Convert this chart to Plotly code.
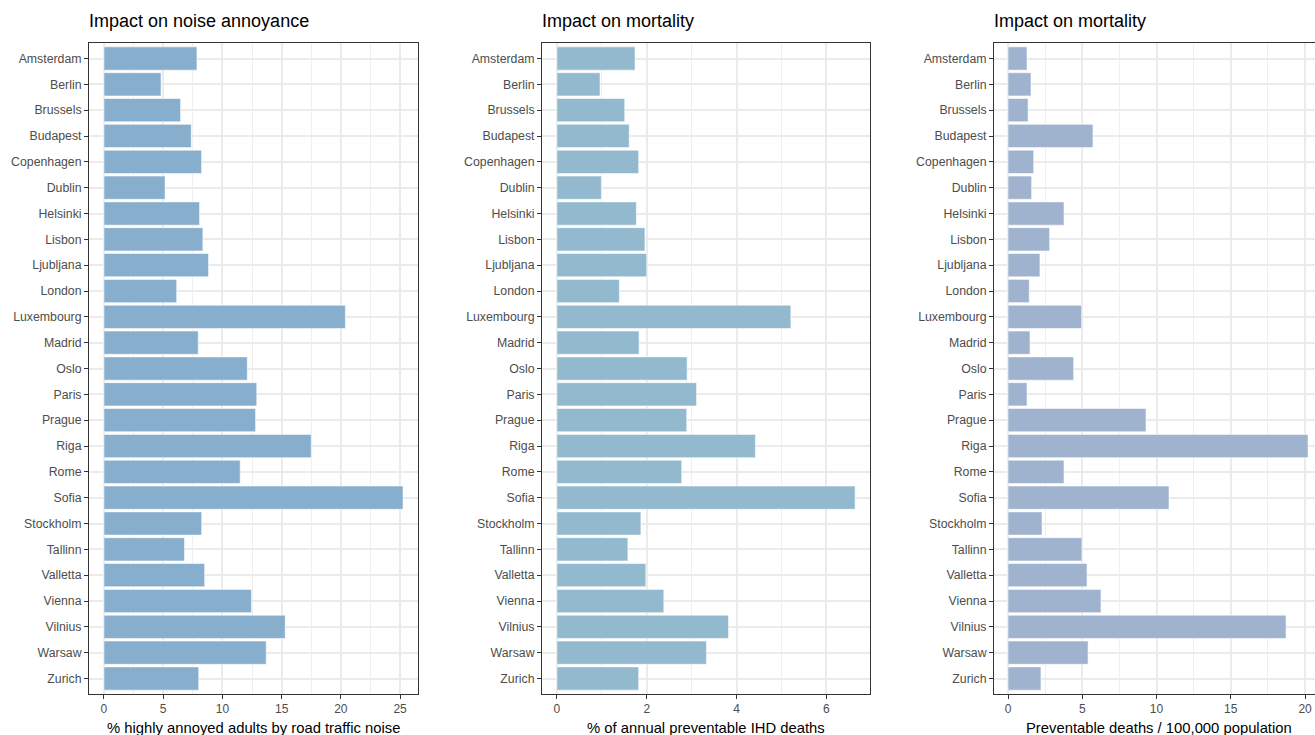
import plotly.graph_objects as go

cities = ["Amsterdam", "Berlin", "Brussels", "Budapest", "Copenhagen", "Dublin",
          "Helsinki", "Lisbon", "Ljubljana", "London", "Luxembourg", "Madrid",
          "Oslo", "Paris", "Prague", "Riga", "Rome", "Sofia", "Stockholm",
          "Tallinn", "Valletta", "Vienna", "Vilnius", "Warsaw", "Zurich"]
annoyance = [7.85, 4.82, 6.47, 7.37, 8.24, 5.16, 8.07, 8.35, 8.83, 6.14, 20.38, 7.96,
             12.1, 12.9, 12.8, 17.5, 11.5, 25.25, 8.25, 6.8, 8.5, 12.45, 15.3, 13.7, 8.0]
ihd_pct = [1.74, 0.96, 1.51, 1.61, 1.82, 0.99, 1.77, 1.96, 2.0, 1.39, 5.21, 1.83,
           2.90, 3.11, 2.89, 4.42, 2.78, 6.64, 1.87, 1.58, 1.98, 2.38, 3.82, 3.33, 1.82]
deaths_rate = [1.28, 1.55, 1.35, 5.72, 1.73, 1.59, 3.77, 2.80, 2.15, 1.43, 4.96, 1.48,
               4.42, 1.28, 9.29, 20.2, 3.77, 10.84, 2.29, 4.98, 5.32, 6.26, 18.72, 5.39, 2.22]

titles = ["Impact on noise annoyance", "Impact on mortality", "Impact on mortality"]
xtitles = ["% highly annoyed adults by road traffic noise",
           "% of annual preventable IHD deaths",
           "Preventable deaths / 100,000 population"]
colors = ["#88AECE", "#92B9CE", "#9FB2CE"]

W, H = 1315, 735
FONT = "Liberation Sans, Arial, sans-serif"

# panel pixel extents
px_left = [89, 542, 994]
px_right = [418, 870, 1315]
top_px, bot_px = 43, 694

xranges = [[-1.2625, 26.5125], [-0.332, 6.972], [-0.943, 20.67]]
dticks = [5, 2, 5]
minor_dticks = [2.5, 1, 2.5]

n = len(cities)
fig = go.Figure()
series = [annoyance, ihd_pct, deaths_rate]
for i in range(3):
    sfx = "" if i == 0 else str(i + 1)
    fig.add_trace(go.Bar(
        x=series[i], y=cities, orientation="h",
        marker=dict(color=colors[i], line=dict(color="rgba(255,255,255,0.55)", width=1)),
        width=0.9, xaxis="x" + sfx, yaxis="y" + sfx, showlegend=False,
        hovertemplate="%{y}: %{x}<extra></extra>"))
    dom_x = [px_left[i] / W, px_right[i] / W]
    dom_y = [1 - bot_px / H, 1 - top_px / H]
    fig.layout["xaxis" + sfx] = dict(
        domain=dom_x, anchor="y" + sfx, range=xranges[i], dtick=dticks[i], tick0=0,
        showgrid=True, gridcolor="#EBEBEB", gridwidth=2,
        minor=dict(dtick=minor_dticks[i], tick0=0, showgrid=True, gridcolor="#EFEFEF", gridwidth=1.2),
        zeroline=False, showline=True, linecolor="#333333", linewidth=1, mirror=True,
        ticks="outside", ticklen=4, tickcolor="#333333", tickwidth=1,
        tickfont=dict(family=FONT, size=12, color="#4D4D4D"), fixedrange=True)
    fig.layout["yaxis" + sfx] = dict(
        domain=dom_y, anchor="x" + sfx, type="category", categoryorder="array",
        categoryarray=cities, range=[n - 1 + 0.6, -0.6],
        showgrid=True, gridcolor="#EBEBEB", gridwidth=2, zeroline=False,
        showline=True, linecolor="#333333", linewidth=1, mirror=(i < 2),
        ticks="outside", ticklen=4, tickcolor="#333333", tickwidth=1,
        tickfont=dict(family=FONT, size=12.3, color="#4D4D4D"), fixedrange=True)
    fig.add_annotation(text=titles[i], xref="paper", yref="paper",
                       x=(px_left[i] - 2) / W, y=1 - 21 / H, xanchor="left", yanchor="middle",
                       showarrow=False, font=dict(family=FONT, size=18, color="black"))
    xcenter = (px_left[i] + (px_right[i] if i < 2 else px_left[i] + 329)) / 2 / W
    fig.add_annotation(text=xtitles[i], xref="paper", yref="paper",
                       x=xcenter, y=1 - 728 / H, xanchor="center", yanchor="middle",
                       showarrow=False, font=dict(family=FONT, size=14.8, color="black"))

fig.update_layout(width=W, height=H, margin=dict(l=0, r=0, t=0, b=0),
                  plot_bgcolor="white", paper_bgcolor="white", bargap=0.1,
                  font=dict(family=FONT))
fig.write_html("out.html", config={"displayModeBar": False},
               post_script="document.body.style.margin='0';document.body.style.overflow='hidden';")
